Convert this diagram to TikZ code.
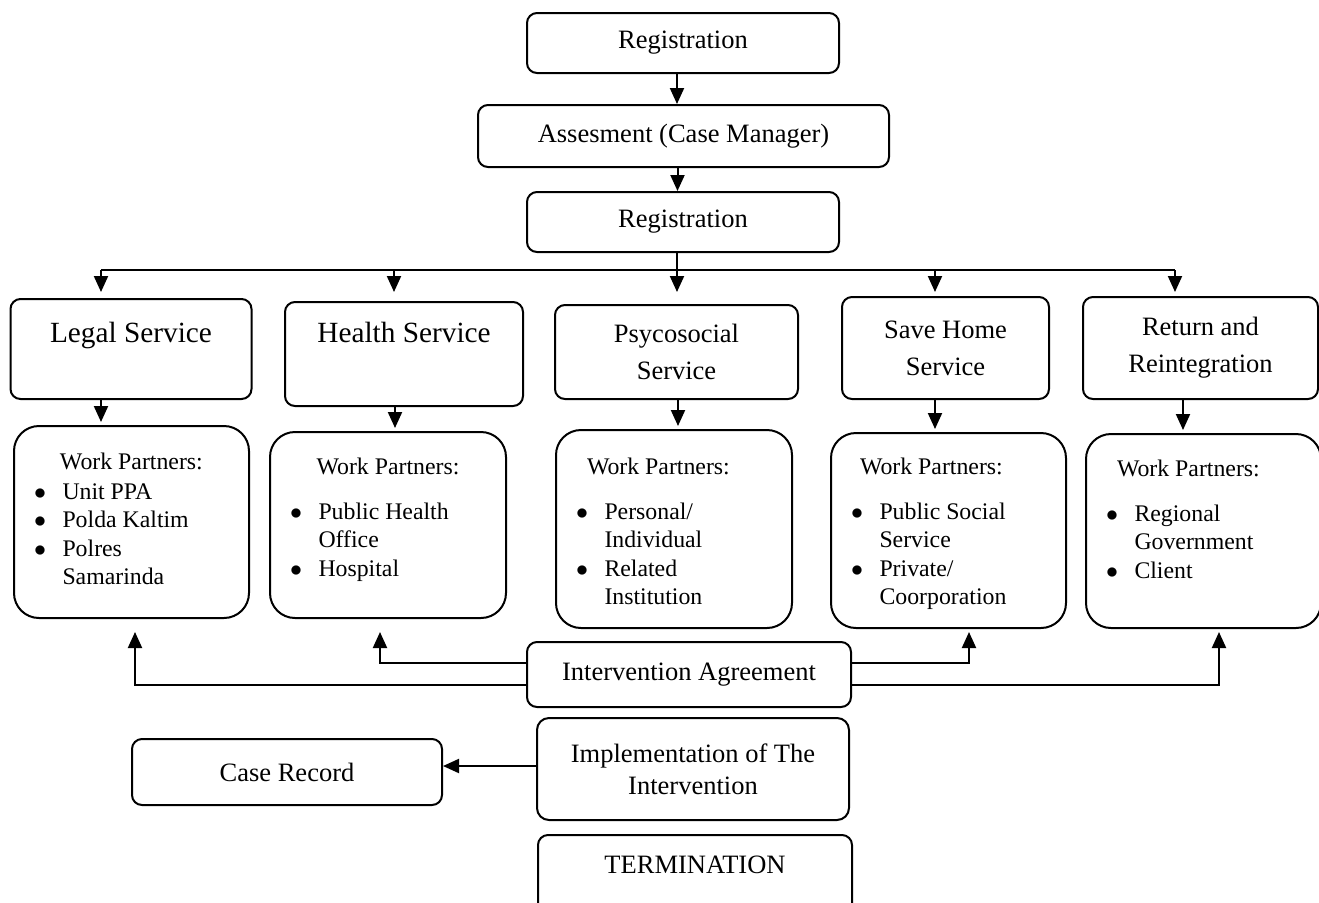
\documentclass[tikz,border=0pt]{standalone}
\usepackage{fontspec}
\setmainfont{Liberation Serif}
\usetikzlibrary{arrows.meta,calc}

\newcommand{\mainsz}{\fontsize{13.25pt}{16pt}\selectfont}
\newcommand{\bigsz}{\fontsize{14.65pt}{17.6pt}\selectfont}
\newcommand{\twosz}{\fontsize{13.25pt}{18.5pt}\selectfont}
\newcommand{\wpsz}{\fontsize{11.9pt}{14.25pt}\selectfont}
% one bullet of a partner list
\newcommand{\wpi}[1]{\par\hangindent=14.25pt\hangafter=1\noindent\makebox[14.25pt][l]{$\bullet$}#1}
\newcommand{\wphead}[2]{\raggedright\rule{0pt}{#1}\hspace*{#2}Work Partners:\par}

\tikzset{
  box/.style={draw, line width=1pt, rounded corners=5pt, inner sep=0pt, align=center, font=\mainsz},
  wpbox/.style={draw, line width=1pt, rounded corners=12.5pt, inner xsep=10pt, inner ysep=0pt, anchor=north west, font=\wpsz},
  arr/.style={line width=1pt, -{Triangle[length=8pt,width=7pt]}},
}

\begin{document}
\begin{tikzpicture}[x=0.5pt, y=-0.5pt]
  \useasboundingbox (0,0) rectangle (1319,902);
  \clip (0,0) rectangle (1319,902);
  % main column
  \node[box, minimum width=156pt, minimum height=30pt] (reg) at (683,43) {Registration};
  \node[box, minimum width=205.5pt, minimum height=31pt] (assess) at (683.5,136) {Assesment (Case Manager)};
  \node[box, minimum width=156pt, minimum height=30pt] (reg2) at (683,222) {Registration};
  % services
  \node[box, font=\bigsz, minimum width=120.5pt, minimum height=50pt] (legal) at (131,349) {Legal Service\\[-1pt]\mbox{}};
  \node[box, font=\bigsz, minimum width=119pt, minimum height=52pt] (health) at (404,354) {Health Service\\[4.5pt]\mbox{}};
  \node[box, font=\twosz, minimum width=121.5pt, minimum height=47pt] (psyco) at (676.5,352) {Psycosocial\\Service};
  \node[box, font=\twosz, minimum width=103.5pt, minimum height=51pt] (save) at (945.5,348) {Save Home\\Service};
  \node[box, font=\twosz, minimum width=117.5pt, minimum height=51pt] (reinteg) at (1200.5,348) {Return and\\Reintegration};
  % work partners
  \node[wpbox] (legalwp) at (13,425) {\parbox[c][96pt][t]{97.5pt}{\wphead{21.5pt}{13pt}\vspace{0.75pt}%
    \wpi{Unit PPA}\wpi{Polda Kaltim}\wpi{Polres\newline Samarinda}}};
  \node[wpbox] (healthwp) at (269,431) {\parbox[c][93pt][t]{98pt}{\wphead{21pt}{13.3pt}\vspace{8.25pt}%
    \wpi{Public Health\newline Office}\wpi{Hospital}}};
  \node[wpbox] (psycowp) at (555,429) {\parbox[c][99pt][t]{98pt}{\wphead{22pt}{5.5pt}\vspace{8.25pt}%
    \wpi{Personal/\newline Individual}\wpi{Related\newline Institution}}};
  \node[wpbox] (savewp) at (830,432) {\parbox[c][97.5pt][t]{97.5pt}{\wphead{20.5pt}{4.5pt}\vspace{8.25pt}%
    \wpi{Public Social\newline Service}\wpi{Private/\newline Coorporation}}};
  \node[wpbox] (reintegwp) at (1085,433) {\parbox[c][97pt][t]{97.5pt}{\wphead{21pt}{5.5pt}\vspace{8.25pt}%
    \wpi{Regional\newline Government}\wpi{Client}}};
  % lower part
  \node[box, minimum width=162pt, minimum height=32.5pt] (agree) at (689,674.5) {Intervention Agreement};
  \node[box, rounded corners=6pt, minimum width=156pt, minimum height=51pt] (impl) at (693,769) {Implementation of The\\Intervention};
  \node[box, minimum width=155pt, minimum height=33pt] (case) at (287,772) {Case Record};
  \node[box, minimum width=157pt, minimum height=46pt] (term) at (695,881) {TERMINATION\\\mbox{}};

  % arrows down the middle
  \draw[arr] ([xshift=-3pt]reg.south) -- ([xshift=-3pt]reg.south |- assess.north);
  \draw[arr] ([xshift=-3pt]assess.south) -- ([xshift=-3pt]assess.south |- reg2.north);
  \draw[arr, shorten >=6pt] ([xshift=-3pt]reg2.south) -- ([xshift=-3pt]reg2.south |- psyco.north);
  % branch line to the services
  \coordinate (bus) at (0,270);
  \draw[line width=1pt] ([xshift=-15pt]legal.north |- bus) -- ([xshift=-12.75pt]reinteg.north |- bus);
  \foreach \s/\dx/\gap in {legal/-15pt/3pt, health/-5pt/4.5pt, save/-5.25pt/2pt, reinteg/-12.75pt/2pt}
    \draw[arr, shorten >=\gap] ([xshift=\dx]\s.north |- bus) -- ([xshift=\dx]\s.north);
  \foreach \s/\w/\dx in {legal/legalwp/-15pt, health/healthwp/-4.5pt, psyco/psycowp/0.75pt, save/savewp/-5.25pt, reinteg/reintegwp/-8.75pt}
    \draw[arr, shorten >=1.5pt] ([xshift=\dx]\s.south) -- ([xshift=\dx]\s.south |- \w.north);
  % agreement back to the partners
  \draw[arr, shorten >=6.5pt] ([yshift=5.75pt]agree.west) -| ([xshift=-4pt]healthwp.south);
  \draw[arr, shorten >=6.5pt] ([yshift=-5.25pt]agree.west) -| ([xshift=1.75pt]legalwp.south);
  \draw[arr, shorten >=1.5pt] ([yshift=5.75pt]agree.east) -| ([xshift=10.25pt]savewp.south);
  \draw[arr, shorten >=1.5pt] ([yshift=-5.25pt]agree.east) -| ([xshift=7.75pt]reintegwp.south);
  % record
  \draw[arr] ([yshift=1.5pt]impl.west) -- ([yshift=1.5pt]impl.west -| case.east);
\end{tikzpicture}
\end{document}
